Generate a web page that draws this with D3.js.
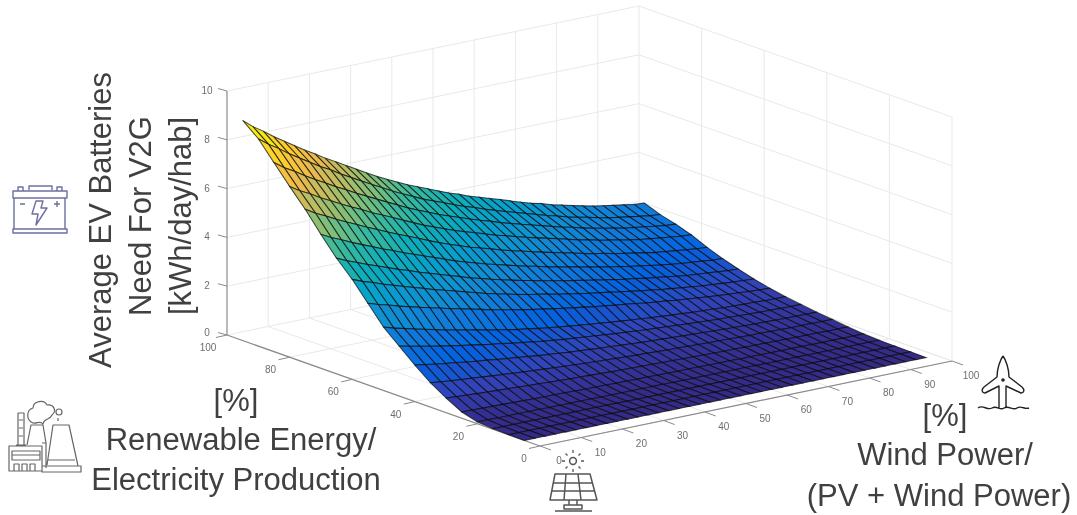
<!DOCTYPE html>
<html><head><meta charset="utf-8">
<script src="https://cdn.jsdelivr.net/npm/d3@7"></script>
<style>html,body{margin:0;background:#fff}svg{display:block;filter:blur(.7px)}text{font-family:"Liberation Sans",Arial,sans-serif}</style>
</head><body><svg id="c" width="1077" height="515"></svg>
<script>
const windGrid=[0,2.5,5,7.5,10,12.5,15,17.5,20,22.5,25,27.5,30,32.5,35,37.5,40,42.5,45,47.5,50,52.5,55,57.5,60,62.5,65,67.5,70,72.5,75,77.5,80,82.5,85,87.5,90,92.5,95,97.5];
const reGrid=[5,10,15,20,25,30,35,40,45,50,55,60,65,70,75,80,85,90,95];
const batteryNeed=[
[0,0,0,0,0,0,0,0,0,0,0,0,0,0,0,0,0,0,0,0,0,0,0,0,0,0,0,0,0,0,0,0,0,0,0,0,0,0,0,0],
[.01,.01,.01,.01,.01,.01,.01,.01,.01,.01,.01,.01,.01,.01,.01,.01,.01,.01,.01,.01,.01,.01,.01,.01,.01,.01,.01,.01,.01,.01,.01,.01,.01,.01,.01,.01,.01,.01,.01,.01],
[.03,.03,.03,.03,.03,.03,.03,.03,.03,.03,.03,.03,.03,.02,.02,.02,.02,.02,.02,.02,.02,.02,.02,.02,.02,.02,.02,.02,.02,.02,.02,.02,.02,.02,.02,.02,.02,.02,.02,.02],
[.08,.08,.07,.07,.07,.07,.07,.06,.06,.06,.06,.06,.05,.05,.05,.05,.05,.05,.05,.04,.04,.04,.04,.04,.04,.04,.04,.04,.03,.03,.03,.03,.03,.03,.03,.03,.03,.03,.03,.03],
[.26,.25,.24,.23,.22,.21,.20,.19,.18,.18,.17,.16,.15,.15,.14,.13,.13,.12,.12,.11,.11,.10,.10,.10,.09,.09,.09,.08,.08,.08,.07,.07,.07,.07,.06,.06,.06,.06,.06,.06],
[.60,.57,.55,.52,.50,.48,.46,.44,.42,.40,.38,.36,.34,.33,.31,.30,.28,.27,.26,.25,.24,.23,.22,.21,.20,.19,.18,.17,.17,.16,.15,.15,.14,.14,.13,.13,.13,.12,.12,.12],
[1.00,.95,.91,.87,.84,.80,.76,.73,.69,.66,.63,.60,.57,.54,.52,.49,.47,.45,.43,.41,.39,.38,.36,.34,.33,.32,.30,.29,.28,.27,.25,.24,.24,.23,.22,.21,.21,.21,.20,.20],
[1.50,1.43,1.37,1.30,1.25,1.19,1.13,1.09,1.03,.98,.94,.89,.84,.80,.76,.72,.69,.66,.62,.60,.57,.54,.51,.49,.47,.45,.43,.41,.39,.37,.35,.34,.32,.31,.30,.29,.28,.28,.27,.27],
[2.05,1.95,1.87,1.78,1.70,1.62,1.55,1.48,1.41,1.34,1.28,1.21,1.15,1.09,1.03,.98,.93,.89,.85,.81,.77,.73,.70,.66,.63,.60,.58,.55,.52,.50,.47,.45,.44,.42,.40,.39,.38,.37,.36,.36],
[2.60,2.47,2.37,2.26,2.16,2.06,1.96,1.88,1.78,1.70,1.61,1.53,1.45,1.37,1.31,1.24,1.18,1.12,1.07,1.02,.97,.93,.88,.84,.80,.76,.72,.69,.65,.63,.59,.57,.55,.52,.50,.49,.48,.46,.45,.45],
[3.35,3.21,3.10,2.97,2.86,2.75,2.64,2.54,2.43,2.34,2.24,2.14,2.04,1.95,1.86,1.78,1.70,1.63,1.56,1.49,1.42,1.36,1.29,1.24,1.18,1.13,1.07,1.01,.96,.92,.86,.82,.78,.74,.70,.67,.64,.61,.58,.57],
[4.10,3.93,3.80,3.64,3.51,3.37,3.24,3.12,2.98,2.87,2.75,2.63,2.51,2.39,2.29,2.19,2.09,2.00,1.92,1.84,1.75,1.68,1.60,1.53,1.46,1.40,1.33,1.26,1.19,1.14,1.07,1.02,.97,.92,.87,.84,.80,.77,.74,.72],
[4.74,4.55,4.39,4.22,4.07,3.91,3.76,3.63,3.47,3.34,3.20,3.07,2.94,2.80,2.69,2.57,2.46,2.36,2.26,2.17,2.07,1.99,1.90,1.82,1.74,1.67,1.59,1.51,1.44,1.38,1.30,1.25,1.19,1.13,1.07,1.03,1.00,.96,.92,.90],
[5.49,5.27,5.09,4.90,4.72,4.55,4.37,4.22,4.04,3.89,3.73,3.58,3.43,3.27,3.14,3.01,2.88,2.77,2.66,2.55,2.44,2.35,2.24,2.15,2.07,1.98,1.89,1.80,1.71,1.65,1.56,1.50,1.43,1.36,1.30,1.25,1.21,1.17,1.12,1.10],
[6.29,6.04,5.84,5.62,5.42,5.23,5.03,4.85,4.66,4.48,4.31,4.14,3.96,3.79,3.64,3.49,3.34,3.22,3.10,2.97,2.85,2.75,2.63,2.53,2.43,2.33,2.23,2.13,2.03,1.96,1.86,1.79,1.71,1.64,1.56,1.51,1.46,1.41,1.36,1.34],
[7.00,6.73,6.52,6.27,6.06,5.84,5.63,5.44,5.22,5.04,4.85,4.66,4.47,4.28,4.12,3.96,3.80,3.66,3.53,3.40,3.26,3.15,3.02,2.91,2.80,2.70,2.59,2.48,2.37,2.29,2.18,2.10,2.02,1.94,1.86,1.81,1.75,1.70,1.65,1.62],
[7.75,7.45,7.22,6.95,6.71,6.48,6.24,6.03,5.80,5.59,5.38,5.17,4.97,4.76,4.58,4.41,4.23,4.08,3.93,3.78,3.64,3.52,3.37,3.25,3.13,3.01,2.90,2.78,2.66,2.57,2.45,2.36,2.27,2.19,2.10,2.04,1.98,1.92,1.86,1.83],
[8.50,8.18,7.92,7.62,7.36,7.10,6.84,6.62,6.36,6.13,5.90,5.67,5.45,5.22,5.02,4.83,4.63,4.47,4.31,4.14,3.98,3.85,3.69,3.56,3.43,3.30,3.17,3.04,2.91,2.81,2.68,2.58,2.49,2.39,2.29,2.23,2.16,2.10,2.03,2.00],
[9.02,8.68,8.41,8.10,7.83,7.56,7.29,7.05,6.78,6.55,6.31,6.07,5.83,5.60,5.39,5.19,4.99,4.82,4.65,4.48,4.31,4.17,4.00,3.87,3.73,3.60,3.46,3.32,3.19,3.09,2.95,2.85,2.75,2.65,2.55,2.48,2.41,2.34,2.27,2.24]
];
const windTicks=[0,10,20,30,40,50,60,70,80,90,100];
const reTicks=[0,20,40,60,80,100];
const zTicks=[0,2,4,6,8,10];
const yLabel=['Average EV Batteries','Need For V2G','[kWh/day/hab]'];
const parula=[[.2081,.1663,.5292],[.1959,.2645,.7279],[.0117,.3875,.882],[.0629,.4737,.8554],[.0641,.557,.824],[.0239,.6287,.8038],[.059,.6838,.7254],[.2178,.725,.6193],[.4871,.7491,.484],[.7184,.7411,.3905],[.9139,.7258,.3063],[.9955,.7861,.1967],[.9589,.8949,.1132],[.9763,.9831,.0538]];
const color=d3.scaleLinear().domain(parula.map((d,i)=>i/(parula.length-1)*9.02)).range(parula.map(c=>d3.rgb(c[0]*255,c[1]*255,c[2]*255)));
const O={x:540,y:446};
const wx=d3.scaleLinear([0,100],[0,412]),wy=d3.scaleLinear([0,100],[0,-85]);
const rx=d3.scaleLinear([0,100],[0,-313]),ry=d3.scaleLinear([0,100],[0,-111]);
const zy=d3.scaleLinear([0,10],[0,-244]);
const P=(w,r,z)=>[O.x+wx(w)+rx(r),O.y+wy(w)+ry(r)+zy(z)];
const svg=d3.select('#c');
const line=(a,b,s,sw)=>svg.append('line').attr('x1',a[0]).attr('y1',a[1]).attr('x2',b[0]).attr('y2',b[1]).attr('stroke',s).attr('stroke-width',sw);
const GRID='#e9e9e9';
windTicks.slice(1).forEach(w=>{line(P(w,100,0),P(w,100,10),GRID,1);line(P(w,0,0),P(w,100,0),GRID,1)});
reTicks.slice(0,-1).forEach(r=>{line(P(100,r,0),P(100,r,10),GRID,1);line(P(0,r,0),P(100,r,0),GRID,1)});
zTicks.forEach(z=>{line(P(0,100,z),P(100,100,z),GRID,1);line(P(100,100,z),P(100,0,z),GRID,1)});
const AX='#8a8a8a';
line(P(0,100,0),P(0,100,10),AX,1.2);line(P(0,0,0),P(0,100,0),AX,1.2);line(P(0,0,0),P(100,0,0),AX,1.2);
const label=(t,x,y)=>svg.append('text').attr('x',x).attr('y',y).attr('text-anchor','middle').attr('font-size',10).attr('fill','#6e6e6e').text(t);
zTicks.forEach(z=>{const p=P(0,100,z);line(p,[p[0]-9,p[1]-2.5],AX,1);label(z,p[0]-20,p[1]+(z==0?1:3))});
reTicks.forEach(r=>{const p=P(0,r,0);line(p,[p[0]-11,p[1]+2.5],AX,1);label(r,p[0]-19-(r==0?-3:0),p[1]+16)});
windTicks.forEach(w=>{const p=P(w,0,0);line(p,[p[0]+11,p[1]+4],AX,1);label(w,p[0]+19,p[1]+18)});
const g3=svg.append('g');
for(let i=reGrid.length-2;i>=0;i--)for(let j=windGrid.length-2;j>=0;j--){
 const c=[[j,i],[j+1,i],[j+1,i+1],[j,i+1]];
 const pts=c.map(([a,b])=>P(windGrid[a],reGrid[b],batteryNeed[b][a]));
 g3.append('polygon').attr('points',pts.join(' ')).attr('fill',color(d3.mean(c,([a,b])=>batteryNeed[b][a]))).attr('stroke','#0a0a0a').attr('stroke-opacity',.72).attr('stroke-width',1.05);
}
const T=(t,x,y,extra)=>{const e=svg.append('text').attr('x',x).attr('y',y).attr('text-anchor','middle').attr('font-size',31).attr('fill','#404040').text(t);if(extra)e.attr('transform',extra);return e};
T('[%]',236,411);T('Renewable Energy/',241,450);T('Electricity Production',236,490);
T('[%]',945,426);T('Wind Power/',945,465);T('(PV + Wind Power)',939,506);
yLabel.forEach((t,i)=>T(t,0,0,`translate(${[111,151,191][i]},${[220,216,216][i]}) rotate(-90)`));
const ic=(d,s,w)=>svg.append('path').attr('d',d).attr('fill','none').attr('stroke',s).attr('stroke-width',w).attr('stroke-linejoin','round');
const B='#6c6f9f';
ic('M14 198V229M65 198V229M13 191H67V198H13ZM13 229H67V233H13ZM18 191V187H23V191M57 191V187H62V191M29 190V186H52V190M20 204H25M54 204H60M57 201V207M36 201H43L41 208H47L36 225L38 214H32Z',B,1.4);
const F='#666';
ic('M9 446H42V471H9ZM12 451H40V460H12ZM12 455H40M14 471V464H19V471M22 471V464H27V471M30 471V464H35V471M18 445V413H24V445M16 445H26M19 420H23M19 428H23M19 436H23M27 445L31 425H43L46 443M42 446V471M42 443H46V468M47 465L53 425H69L78 466M42 466H81V472H42ZM48 460H75M33 423C26 420 26 410 33 408C33 401 44 399 47 405C54 404 57 411 52 415C50 420 44 418 43 424C40 420 37 424 33 423ZM62 412A3 3 0 1 1 56 412A3 3 0 1 1 62 412ZM58 421V418',F,1.2);
const S='#555';
ic('M555 474H590L597 500H550ZM566 474L564 500M578 474L581 500M553 483H592M551 491H594M569 500V505H577V500M564 505H582V509H564ZM555 511H592',S,1.5);
svg.append('circle').attr('cx',573).attr('cy',461).attr('r',3.4).attr('fill','none').attr('stroke',S).attr('stroke-width',1.5);
ic('M581 461H584M562 461H565M573 453V450M573 469V472M567.5 455.5L565.5 453.5M578.5 455.5L580.5 453.5M567.5 466.5L565.5 468.5M578.5 466.5L580.5 468.5',S,1.3);
const K='#222';
ic('M1003 356C1000 360 997 369 997 377L984 387C981 390 982 393 985 393L999 386V408M1003 356C1006 360 1009 369 1009 377L1022 387C1025 390 1024 393 1021 393L1006 386V408M978 408C983 404 987 411 992 408C997 405 1000 411 1004 408C1009 405 1013 411 1017 408C1021 405 1025 410 1029 408',K,1.4);
svg.append('circle').attr('cx',1003).attr('cy',380).attr('r',1.8).attr('fill',K);
</script></body></html>
